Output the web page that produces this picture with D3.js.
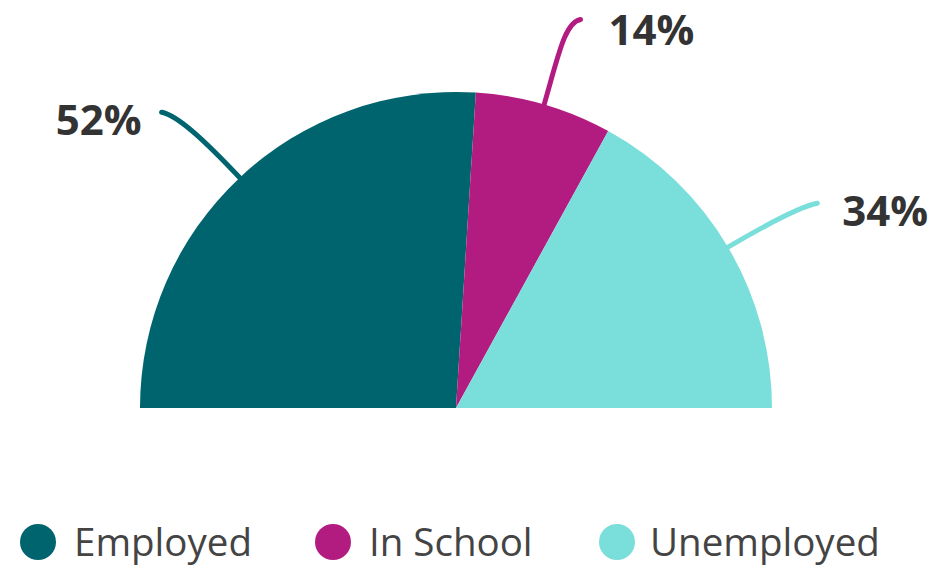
<!DOCTYPE html>
<html>
<head>
<meta charset="utf-8">
<script src="https://cdn.jsdelivr.net/npm/d3@7"></script>
<style>
  html, body { margin: 0; padding: 0; background: #ffffff; }
  svg { display: block; }
</style>
</head>
<body>
<svg id="chart" width="951" height="566"></svg>
<script>
const categories = ["Employed", "In School", "Unemployed"];
const values = [52, 14, 34];
const valueLabels = ["52%", "14%", "34%"];
const colors = ["#00646f", "#b21c80", "#7adeda"];

const width = 951, height = 566;
const cx = 456, cy = 408, radius = 316;

const svg = d3.select("#chart");

const pie = d3.pie().sort(null).startAngle(-Math.PI / 2).endAngle(Math.PI / 2);
const arcs = pie(values);
const arc = d3.arc().innerRadius(0).outerRadius(radius);

const g = svg.append("g").attr("transform", `translate(${cx},${cy})`);

const labelLayout = [
  { rf: 1.31, dx: -11, dy: 6, side: -1, gap: 20, ty: 23 },
  { rf: 1.31, dx: 9, dy: 9, side: 1, gap: 28, ty: 26 },
  { rf: 1.31, dx: 5, dy: 6, side: 1, gap: 25, ty: 23 }
];

function polar(a, r) { return [Math.sin(a) * r, -Math.cos(a) * r]; }

const leaders = arcs.map((d, i) => {
  const mid = (d.startAngle + d.endAngle) / 2;
  const L = labelLayout[i];
  const p0 = polar(mid, radius - 4);
  const p1 = polar(mid, radius * 1.16);
  const e = polar(mid, radius * L.rf);
  const p3 = [e[0] + L.dx, e[1] + L.dy];
  const p2 = [p3[0] - L.side * 16, p3[1] + 3];
  return { p0, p1, p2, p3, L, i };
});

g.selectAll("path.leader")
  .data(leaders)
  .join("path")
  .attr("class", "leader")
  .attr("d", d => {
    const p = d3.path();
    p.moveTo(d.p0[0], d.p0[1]);
    p.bezierCurveTo(d.p1[0], d.p1[1], d.p2[0], d.p2[1], d.p3[0], d.p3[1]);
    return p.toString();
  })
  .attr("fill", "none")
  .attr("stroke", d => colors[d.i])
  .attr("stroke-width", 5)
  .attr("stroke-linecap", "round");

g.selectAll("path.slice")
  .data(arcs)
  .join("path")
  .attr("class", "slice")
  .attr("d", arc)
  .attr("fill", (d, i) => colors[i]);

g.selectAll("text.val")
  .data(leaders)
  .join("text")
  .attr("class", "val")
  .attr("x", d => d.p3[0] + d.L.side * d.L.gap)
  .attr("y", d => d.p3[1] + d.L.ty)
  .attr("text-anchor", d => d.L.side < 0 ? "end" : "start")
  .attr("font-family", "'Open Sans', sans-serif")
  .attr("font-weight", 700)
  .attr("font-size", 42)
  .attr("fill", "#333333")
  .text(d => valueLabels[d.i]);

// legend
const legendXs = [38, 333, 617];
const legend = svg.append("g").attr("transform", "translate(0,542)");
const items = legend.selectAll("g.item")
  .data(categories)
  .join("g")
  .attr("class", "item")
  .attr("transform", (d, i) => `translate(${legendXs[i]},0)`);
items.append("circle")
  .attr("r", 18)
  .attr("fill", (d, i) => colors[i]);
items.append("text")
  .attr("x", (d, i) => i === 2 ? 33 : 36)
  .attr("y", 14)
  .attr("font-family", "'Open Sans', sans-serif")
  .attr("font-size", 38.5)
  .attr("fill", "#444444")
  .text(d => d);
</script>
</body>
</html>
